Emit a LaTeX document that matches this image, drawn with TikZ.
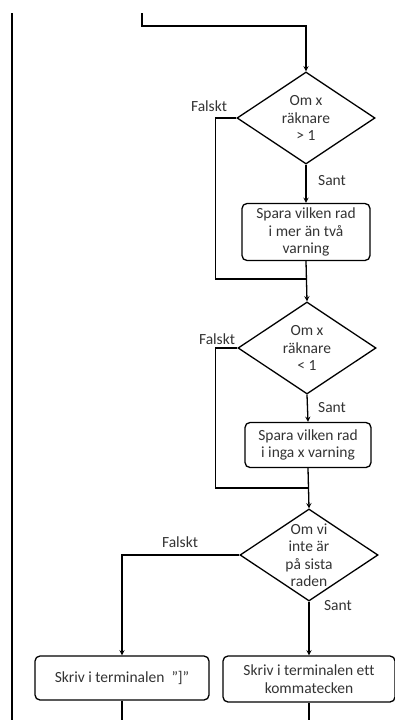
\documentclass[tikz,border=0pt]{standalone}
\usepackage{fontspec}
\setmainfont[Ligatures=NoCommon]{Carlito}
\usetikzlibrary{shapes.geometric}

\tikzset{
  dia/.style={diamond, draw, line width=1.3pt, inner sep=0pt, minimum width=138, minimum height=92},
  box/.style={rectangle, draw, rounded corners=5pt, line width=1.3pt, inner sep=2pt, align=center, text=black!80},
  txt/.style={align=center, inner sep=0pt, text=black!80},
  lbl/.style={inner sep=0pt, text=black!80},
  conn/.style={line width=1.3pt},
}

\begin{document}
\begin{tikzpicture}[x=1pt, y=-1pt, font=\fontsize{15.5}{17.5}\selectfont]

\useasboundingbox (0,0) rectangle (395,720);

% back line on the left
\coordinate (back-top) at (12,13);
\coordinate (back-bot) at (12,720);
\draw [line width=2.2pt] (back-top) -- (back-bot);

% first test
\coordinate (top-in) at (142,13);
\node [dia] (d1) at (306,118){};
\node [txt] (d1-t) at (d1.center){Om x\\räknare\\> 1};
\draw [-stealth,conn] (top-in) -- ++(0,13) -| (d1.north);

\node [lbl] (d1-f) at (209,106){Falskt};
\node [lbl] (d1-s) at (332,181){Sant};

\node [box, minimum width=128, minimum height=57] (b1) at (306,232){Spara vilken rad\\i mer än två\\varning};
\draw [-stealth,conn] (d1.south) -- (b1.north);

% second test
\node [dia] (d2) at (307,348){};
\node [txt] (d2-t) at (d2.center){Om x\\räknare\\< 1};
\draw [-stealth,conn] (b1.south) -- (d2.north);
\coordinate (merge-1) at (307,279);
\draw [conn] (d1.west) -- ++(-21,0) |- (merge-1);

\node [lbl] (d2-f) at (217,339){Falskt};
\node [lbl] (d2-s) at (332,408){Sant};

\node [box, minimum width=126, minimum height=45] (b2) at (308,445){Spara vilken rad\\i inga x varning};
\draw [-stealth,conn] (d2.south) -- (b2.north);

% third test
\node [dia] (d3) at (309,555){};
\node [txt] (d3-t) at (d3.center){Om vi\\inte är\\på sista\\raden};
\draw [-stealth,conn] (b2.south) -- (d3.north);
\coordinate (merge-2) at (309,488);
\draw [conn] (d2.west) -- ++(-22,0) |- (merge-2);

\node [lbl] (d3-f) at (180,542){Falskt};
\node [lbl] (d3-s) at (338,606){Sant};

\node [box, minimum width=174, minimum height=44] (b3) at (122,678){Skriv i terminalen \ \symbol{34}]”};
\node [box, minimum width=172, minimum height=46] (b4) at (309,679){Skriv i terminalen ett\\kommatecken};
\draw [-stealth,conn] (d3.west) -| (b3.north);
\draw [-stealth,conn] (d3.south) -- (b4.north);

\coordinate (out-l) at (122,720);
\coordinate (out-r) at (309,720);
\draw [conn] (b3.south) -- (out-l);
\draw [conn] (b4.south) -- (out-r);

\end{tikzpicture}
\end{document}
